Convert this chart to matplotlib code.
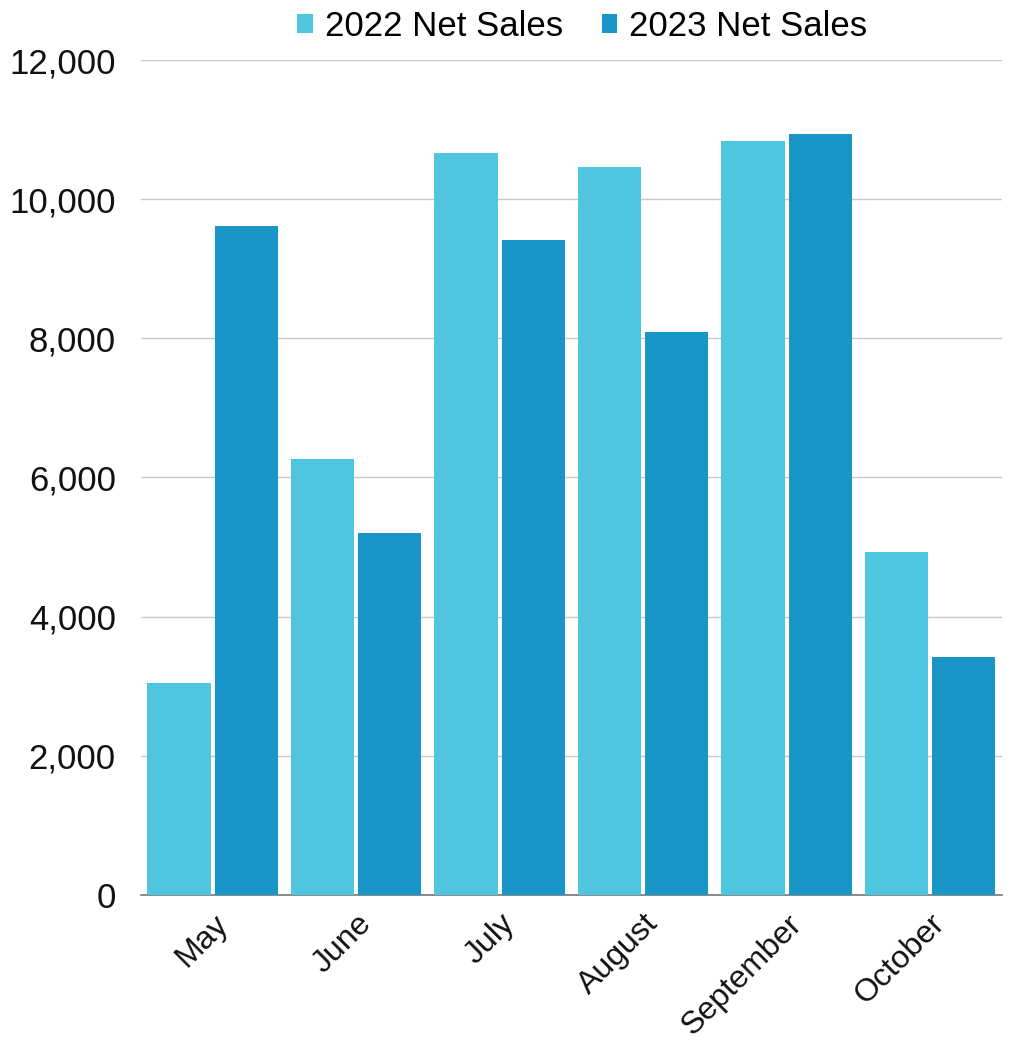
import matplotlib
matplotlib.use("Agg")
import matplotlib.pyplot as plt
import numpy as np

months = ["May", "June", "July", "August", "September", "October"]
sales_2022 = [3040, 6270, 10670, 10470, 10830, 4930]
sales_2023 = [9620, 5200, 9420, 8090, 10940, 3420]
y_ticks = [0, 2000, 4000, 6000, 8000, 10000, 12000]
series_names = ["2022 Net Sales", "2023 Net Sales"]

plt.rcParams["font.family"] = ["Liberation Sans", "DejaVu Sans"]

c2022 = "#50C5E0"
c2023 = "#1A95C7"

fig = plt.figure(figsize=(10.13, 10.54), dpi=100)
ax = fig.add_axes([0.139, 0.151, 0.850, 0.792])

x = np.arange(len(months))
w = 0.44
gap = 0.028
b1 = ax.bar(x - w / 2 - gap / 2, sales_2022, width=w, color=c2022, label=series_names[0], zorder=3)
b2 = ax.bar(x + w / 2 + gap / 2, sales_2023, width=w, color=c2023, label=series_names[1], zorder=3)

ax.set_ylim(0, 12000)
ax.set_xlim(-0.5, len(months) - 0.5)
ax.set_yticks(y_ticks)
ax.set_yticklabels([f"{v:,}" for v in y_ticks], fontsize=25, color="#111111")
ax.yaxis.grid(True, color="#c8c8c8", linewidth=1.0, zorder=0)
ax.set_axisbelow(True)
ax.tick_params(axis="y", length=0, pad=18)
ax.tick_params(axis="x", length=0, pad=10)

ax.set_xticks(x)
ax.set_xticklabels(months, rotation=45, ha="right", rotation_mode="anchor",
                   fontsize=23, color="#111111")

for s in ["top", "right", "left"]:
    ax.spines[s].set_visible(False)
ax.spines["bottom"].set_color("#777777")
ax.spines["bottom"].set_linewidth(1.2)

fig.legend(handles=[b1, b2], labels=series_names, loc="upper center",
           bbox_to_anchor=(0.575, 1.02), ncol=2, frameon=False,
           fontsize=25, handlelength=0.45, handleheight=0.45,
           handletextpad=0.35, columnspacing=1.1)

fig.savefig("out.png", dpi=100, facecolor="white")
